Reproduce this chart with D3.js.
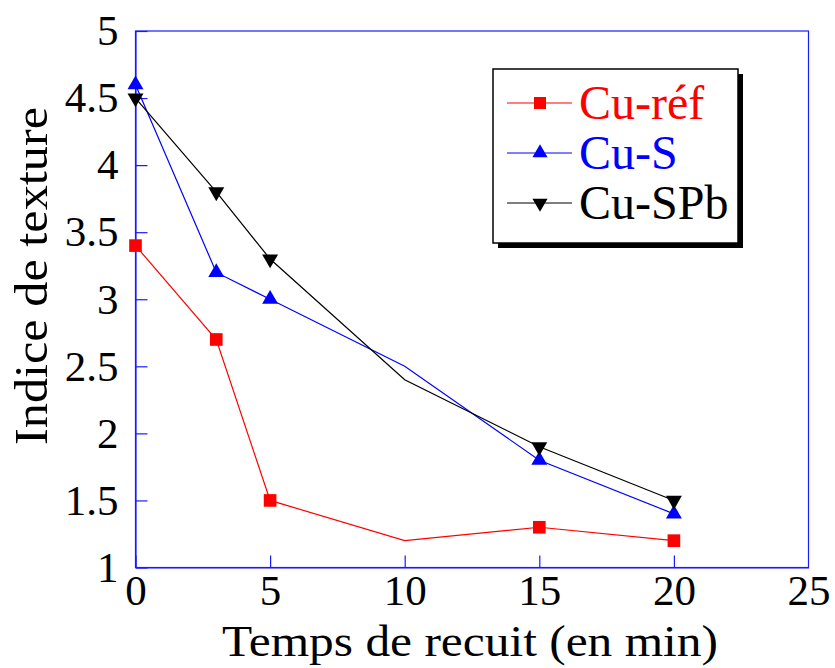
<!DOCTYPE html>
<html>
<head>
<meta charset="utf-8">
<script src="https://cdn.jsdelivr.net/npm/d3@7"></script>
<style>
  html, body { margin: 0; padding: 0; background: #fff; }
  svg { display: block; }
  text { font-family: "Liberation Serif", "Times New Roman", serif; }
</style>
</head>
<body>
<svg id="chart" width="835" height="668"></svg>
<script>
// ---- data ----
const times = [0, 3, 5, 10, 15, 20];
const cuRef = [3.4, 2.7, 1.5, 1.2, 1.3, 1.2];
const cuS   = [4.6, 3.2, 3.0, 2.5, 1.8, 1.4];
const cuSPb = [4.5, 3.8, 3.3, 2.4, 1.9, 1.5];
const markedTimes = [0, 3, 5, 15, 20];
const seriesNames = ["Cu-réf", "Cu-S", "Cu-SPb"];
const xTicks = [0, 5, 10, 15, 20, 25];
const yTicks = [1, 1.5, 2, 2.5, 3, 3.5, 4, 4.5, 5];
const xTitle = "Temps de recuit (en min)";
const yTitle = "Indice de texture";

const series = [
  { name: seriesNames[0], values: cuRef, color: "#ff0000", symbol: d3.symbolSquare, rot: 0, size: 160 },
  { name: seriesNames[1], values: cuS,   color: "#0000ff", symbol: d3.symbolTriangle, rot: 0, size: 110 },
  { name: seriesNames[2], values: cuSPb, color: "#000000", symbol: d3.symbolTriangle, rot: 180, size: 110 }
];

const svg = d3.select("#chart");
const pL = 135.5, pR = 808.5, pT = 31, pB = 567.5;
const x = d3.scaleLinear().domain([0, 25]).range([pL, pR]);
const y = d3.scaleLinear().domain([1, 5]).range([pB, pT]);
const axisColor = "#1a1aff";

// frame
svg.append("rect")
  .attr("x", pL).attr("y", pT)
  .attr("width", pR - pL).attr("height", pB - pT)
  .attr("fill", "none").attr("stroke", axisColor).attr("stroke-width", 1.2);

// axes
const gx = svg.append("g").attr("transform", `translate(0,${pB})`)
  .call(d3.axisBottom(x).tickValues(xTicks).tickSizeInner(-12).tickSizeOuter(0).tickPadding(7).tickFormat(d3.format("d")));
const gy = svg.append("g").attr("transform", `translate(${pL},0)`)
  .call(d3.axisLeft(y).tickValues(yTicks).tickSizeInner(-12).tickSizeOuter(0).tickPadding(17).tickFormat(d => String(d)));
[gx, gy].forEach(g => {
  g.select(".domain").attr("stroke", axisColor).attr("stroke-width", 1.2);
  g.selectAll(".tick line").attr("stroke", axisColor).attr("stroke-width", 1.2);
  g.selectAll(".tick text").attr("fill", "#000").attr("font-size", 43)
    .style("font-family", '"Liberation Serif", serif');
});
gx.selectAll(".tick").filter(d => d === 25).select("line").remove();

// titles
svg.append("text").attr("x", 470).attr("y", 656).attr("text-anchor", "middle")
  .attr("font-size", 45).attr("textLength", 496).attr("lengthAdjust", "spacingAndGlyphs").text(xTitle);
svg.append("text").attr("transform", `translate(47,276) rotate(-90)`).attr("text-anchor", "middle")
  .attr("font-size", 47).attr("textLength", 338).attr("lengthAdjust", "spacingAndGlyphs").text(yTitle);

// lines and markers
const line = d3.line().x((d, i) => x(times[i])).y(d => y(d));
series.forEach(s => {
  svg.append("path").datum(s.values).attr("d", line)
    .attr("fill", "none").attr("stroke", s.color).attr("stroke-width", 1.2);
  svg.append("g").selectAll("path")
    .data(s.values.map((v, i) => ({ t: times[i], v })).filter(d => markedTimes.includes(d.t)))
    .join("path")
    .attr("d", d3.symbol().type(s.symbol).size(s.size))
    .attr("transform", d => `translate(${x(d.t)},${y(d.v)}) rotate(${s.rot})`)
    .attr("fill", s.color);
});

// legend
const lg = svg.append("g");
const lx = 493, ly = 69, lw = 245, lh = 174;
lg.append("rect").attr("x", lx + 5).attr("y", ly + 5).attr("width", lw).attr("height", lh).attr("fill", "#000");
lg.append("rect").attr("x", lx).attr("y", ly).attr("width", lw).attr("height", lh)
  .attr("fill", "#fff").attr("stroke", "#000").attr("stroke-width", 1.5);
series.forEach((s, i) => {
  const yy = 103 + i * 50;
  lg.append("line").attr("x1", 507).attr("x2", 572).attr("y1", yy).attr("y2", yy)
    .attr("stroke", s.color).attr("stroke-width", 1.2);
  lg.append("path").attr("d", d3.symbol().type(s.symbol).size(s.size * 0.9))
    .attr("transform", `translate(540,${yy}) rotate(${s.rot})`).attr("fill", s.color);
  lg.append("text").attr("x", 579).attr("y", yy + 16).attr("font-size", 48)
    .attr("fill", s.color).text(s.name);
});
</script>
</body>
</html>
